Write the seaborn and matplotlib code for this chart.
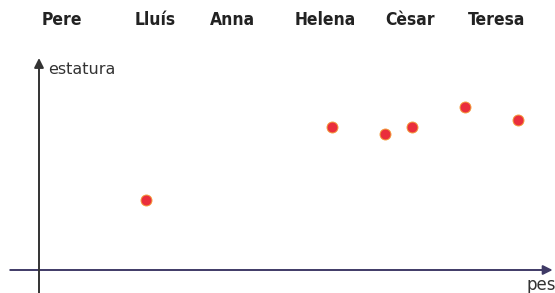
import matplotlib
matplotlib.use("Agg")
import matplotlib.pyplot as plt
import seaborn as sns
import pandas as pd

# noms de les persones (fila superior)
noms = ["Pere", "Lluís", "Anna", "Helena", "Cèsar", "Teresa"]
# punts del gràfic: pes i estatura (unitats arbitràries)
pes = [13.4, 36.6, 43.3, 46.6, 53.3, 59.9]
estatura = [70, 143, 136, 143, 163, 150]

df = pd.DataFrame({"pes": pes, "estatura": estatura})

sns.set_style("white")
fig = plt.figure(figsize=(5.55, 2.93), dpi=100)
ax = fig.add_axes([0, 0, 1, 1])

sns.scatterplot(data=df, x="pes", y="estatura", ax=ax, s=62,
                color="#ea2e3c", edgecolor="#f39a3a", linewidth=0.7, zorder=3)

ax.set_xlim(-4.875, 64.5)
ax.set_ylim(-23, 270)
ax.axis("off")

# eixos amb fletxa
ax.annotate("", xy=(64.2, 0), xytext=(-3.6, 0),
            arrowprops=dict(arrowstyle="-|>", color="#3f3a66", lw=1.4,
                            mutation_scale=14, shrinkA=0, shrinkB=0))
ax.annotate("", xy=(0, 212), xytext=(0, -23),
            arrowprops=dict(arrowstyle="-|>", color="#333333", lw=1.4,
                            mutation_scale=14, shrinkA=0, shrinkB=0))
ax.text(1.1, 200, "estatura", fontsize=11.5, color="#333333", va="center", ha="left")
ax.text(61.0, -15, "pes", fontsize=12, color="#333333", va="center", ha="left")

# fila de noms
xs_noms = [62, 155, 232, 325, 410, 497]
for nom, xp in zip(noms, xs_noms):
    fig.text(xp / 555, 1 - 20 / 293, nom, fontsize=12.5, fontweight="bold",
             fontstretch="condensed",
             family=["DejaVu Sans"], color="#222222",
             ha="center", va="center")

fig.savefig("out.png", dpi=100)
